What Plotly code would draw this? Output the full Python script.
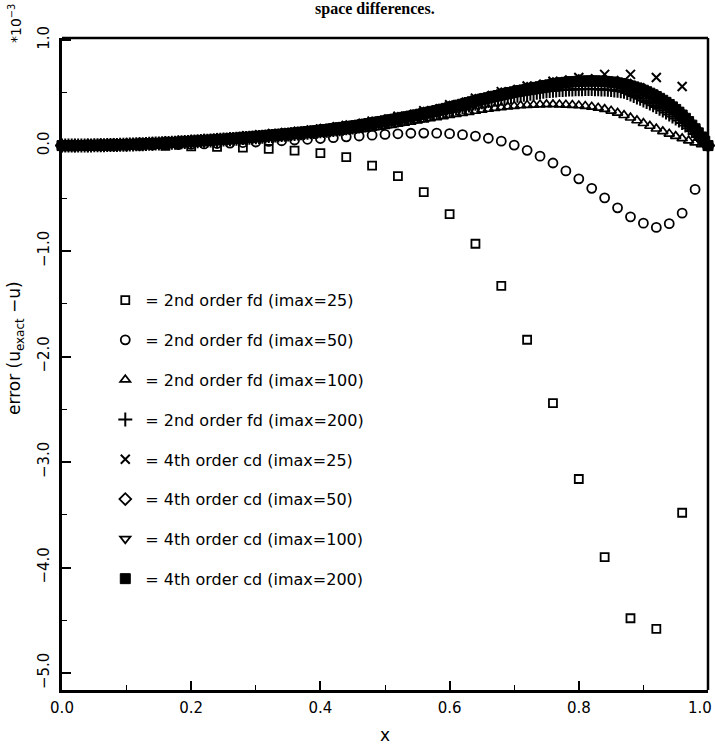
import numpy as np
import plotly.graph_objects as go

# Error u_exact - u, in units of 1e-3, on the grid x_i = i / imax

# 2nd order finite differences
err_fd2_25 = [0.000, 0.000, 0.000, 0.000, -0.002, -0.008, -0.012, -0.020, -0.030, -0.048,
              -0.072, -0.110, -0.190, -0.290, -0.440, -0.650, -0.930, -1.330, -1.840, -2.440,
              -3.160, -3.900, -4.480, -4.580, -3.480, 0.000]

err_fd2_50 = [0.000, 0.000, 0.000, 0.001, 0.002, 0.003, 0.004, 0.006, 0.008, 0.010,
              0.013, 0.016, 0.020, 0.024, 0.029, 0.034, 0.040, 0.046, 0.053, 0.060,
              0.067, 0.075, 0.083, 0.091, 0.099, 0.106, 0.112, 0.117, 0.119, 0.118,
              0.113, 0.104, 0.090, 0.070, 0.042, 0.005, -0.045, -0.100, -0.165, -0.240,
              -0.315, -0.405, -0.495, -0.590, -0.675, -0.735, -0.775, -0.740, -0.640, -0.415,
              0.000]

err_fd2_100 = [0.000, 0.000, 0.000, 0.000, 0.001, 0.002, 0.002, 0.003, 0.004, 0.005,
               0.006, 0.007, 0.009, 0.010, 0.012, 0.014, 0.016, 0.018, 0.021, 0.023,
               0.026, 0.029, 0.032, 0.035, 0.038, 0.042, 0.045, 0.049, 0.053, 0.057,
               0.061, 0.065, 0.070, 0.074, 0.079, 0.084, 0.089, 0.094, 0.100, 0.105,
               0.111, 0.117, 0.123, 0.129, 0.136, 0.143, 0.151, 0.159, 0.167, 0.176,
               0.185, 0.195, 0.205, 0.215, 0.225, 0.236, 0.247, 0.258, 0.268, 0.278,
               0.288, 0.298, 0.308, 0.318, 0.328, 0.338, 0.347, 0.355, 0.362, 0.369,
               0.375, 0.380, 0.384, 0.387, 0.389, 0.390, 0.390, 0.389, 0.387, 0.384,
               0.380, 0.375, 0.368, 0.358, 0.346, 0.330, 0.310, 0.288, 0.264, 0.238,
               0.212, 0.186, 0.160, 0.135, 0.112, 0.090, 0.068, 0.047, 0.028, 0.012,
               0.000]

err_fd2_200 = [0.000, 0.000, 0.000, 0.000, 0.000, 0.000, 0.001, 0.001, 0.002, 0.002,
               0.003, 0.003, 0.004, 0.004, 0.005, 0.005, 0.006, 0.006, 0.007, 0.008,
               0.009, 0.010, 0.011, 0.012, 0.013, 0.014, 0.016, 0.017, 0.018, 0.019,
               0.021, 0.022, 0.024, 0.025, 0.027, 0.028, 0.030, 0.032, 0.034, 0.035,
               0.037, 0.039, 0.041, 0.043, 0.045, 0.047, 0.049, 0.051, 0.053, 0.055,
               0.057, 0.059, 0.061, 0.063, 0.066, 0.068, 0.071, 0.073, 0.075, 0.077,
               0.080, 0.082, 0.085, 0.087, 0.090, 0.092, 0.095, 0.097, 0.100, 0.102,
               0.105, 0.108, 0.111, 0.114, 0.117, 0.120, 0.123, 0.126, 0.129, 0.132,
               0.135, 0.138, 0.142, 0.145, 0.149, 0.152, 0.156, 0.160, 0.164, 0.168,
               0.172, 0.176, 0.181, 0.185, 0.190, 0.194, 0.199, 0.204, 0.209, 0.214,
               0.219, 0.224, 0.229, 0.234, 0.239, 0.244, 0.250, 0.255, 0.261, 0.267,
               0.273, 0.279, 0.285, 0.291, 0.297, 0.303, 0.310, 0.316, 0.323, 0.330,
               0.337, 0.344, 0.352, 0.359, 0.367, 0.374, 0.381, 0.388, 0.396, 0.403,
               0.410, 0.416, 0.422, 0.428, 0.434, 0.439, 0.445, 0.450, 0.456, 0.461,
               0.467, 0.472, 0.477, 0.482, 0.487, 0.492, 0.497, 0.501, 0.506, 0.510,
               0.515, 0.518, 0.521, 0.523, 0.526, 0.528, 0.530, 0.531, 0.533, 0.534,
               0.535, 0.535, 0.536, 0.536, 0.536, 0.535, 0.534, 0.532, 0.531, 0.529,
               0.527, 0.523, 0.520, 0.515, 0.510, 0.498, 0.485, 0.471, 0.457, 0.443,
               0.428, 0.413, 0.398, 0.382, 0.366, 0.349, 0.332, 0.314, 0.296, 0.277,
               0.258, 0.237, 0.215, 0.190, 0.165, 0.138, 0.110, 0.083, 0.055, 0.027,
               0.000]

# 4th order compact differences
err_cd4_25 = [0.000, 0.001, 0.004, 0.012, 0.024, 0.040, 0.058, 0.079, 0.102, 0.128,
              0.158, 0.192, 0.232, 0.278, 0.330, 0.388, 0.450, 0.512, 0.565, 0.610,
              0.645, 0.675, 0.675, 0.645, 0.560, 0.000]

err_cd4_50 = [0.000, 0.000, 0.002, 0.004, 0.007, 0.010, 0.014, 0.019, 0.025, 0.032,
              0.040, 0.048, 0.056, 0.065, 0.075, 0.085, 0.096, 0.107, 0.118, 0.131,
              0.145, 0.161, 0.177, 0.194, 0.214, 0.235, 0.257, 0.280, 0.305, 0.332,
              0.362, 0.394, 0.427, 0.458, 0.487, 0.515, 0.540, 0.564, 0.585, 0.603,
              0.614, 0.617, 0.613, 0.599, 0.570, 0.530, 0.470, 0.395, 0.295, 0.165,
              0.000]

err_cd4_100 = [0.000, 0.000, 0.000, 0.001, 0.002, 0.003, 0.004, 0.005, 0.007, 0.008,
               0.010, 0.012, 0.014, 0.017, 0.019, 0.022, 0.025, 0.029, 0.032, 0.036,
               0.040, 0.044, 0.048, 0.052, 0.056, 0.060, 0.065, 0.070, 0.075, 0.080,
               0.085, 0.090, 0.096, 0.101, 0.107, 0.112, 0.118, 0.125, 0.131, 0.138,
               0.145, 0.153, 0.161, 0.169, 0.177, 0.185, 0.194, 0.204, 0.214, 0.224,
               0.235, 0.246, 0.257, 0.268, 0.280, 0.292, 0.305, 0.318, 0.332, 0.346,
               0.360, 0.376, 0.392, 0.408, 0.424, 0.440, 0.454, 0.468, 0.482, 0.496,
               0.510, 0.522, 0.534, 0.546, 0.558, 0.570, 0.582, 0.592, 0.600, 0.606,
               0.610, 0.612, 0.613, 0.612, 0.609, 0.603, 0.595, 0.582, 0.566, 0.547,
               0.525, 0.497, 0.465, 0.430, 0.390, 0.343, 0.290, 0.228, 0.160, 0.082,
               0.000]

err_cd4_200 = [0.000, 0.000, 0.000, 0.000, 0.000, 0.001, 0.001, 0.001, 0.002, 0.002,
               0.003, 0.003, 0.004, 0.004, 0.005, 0.006, 0.007, 0.007, 0.008, 0.009,
               0.010, 0.011, 0.012, 0.013, 0.014, 0.015, 0.017, 0.018, 0.019, 0.020,
               0.022, 0.023, 0.025, 0.027, 0.029, 0.030, 0.032, 0.034, 0.036, 0.038,
               0.040, 0.042, 0.044, 0.046, 0.048, 0.050, 0.052, 0.054, 0.056, 0.058,
               0.060, 0.062, 0.065, 0.067, 0.070, 0.072, 0.075, 0.077, 0.080, 0.082,
               0.085, 0.087, 0.090, 0.093, 0.096, 0.098, 0.101, 0.104, 0.107, 0.109,
               0.112, 0.115, 0.118, 0.121, 0.125, 0.128, 0.131, 0.134, 0.138, 0.141,
               0.145, 0.149, 0.153, 0.157, 0.161, 0.165, 0.169, 0.173, 0.177, 0.181,
               0.185, 0.189, 0.194, 0.199, 0.204, 0.209, 0.214, 0.219, 0.224, 0.229,
               0.235, 0.240, 0.246, 0.251, 0.257, 0.262, 0.268, 0.274, 0.280, 0.286,
               0.292, 0.298, 0.305, 0.311, 0.318, 0.325, 0.332, 0.339, 0.346, 0.353,
               0.360, 0.368, 0.376, 0.384, 0.392, 0.400, 0.408, 0.416, 0.424, 0.432,
               0.440, 0.447, 0.454, 0.461, 0.468, 0.475, 0.482, 0.489, 0.496, 0.503,
               0.510, 0.516, 0.522, 0.528, 0.534, 0.540, 0.546, 0.552, 0.558, 0.564,
               0.570, 0.576, 0.582, 0.587, 0.592, 0.596, 0.600, 0.603, 0.606, 0.608,
               0.610, 0.611, 0.612, 0.613, 0.613, 0.613, 0.612, 0.611, 0.609, 0.606,
               0.603, 0.599, 0.595, 0.589, 0.582, 0.574, 0.566, 0.557, 0.547, 0.536,
               0.525, 0.511, 0.497, 0.481, 0.465, 0.448, 0.430, 0.410, 0.390, 0.367,
               0.343, 0.317, 0.290, 0.259, 0.228, 0.194, 0.160, 0.121, 0.082, 0.041,
               0.000]

legend_labels = [
    "= 2nd order fd (imax=25)",
    "= 2nd order fd (imax=50)",
    "= 2nd order fd (imax=100)",
    "= 2nd order fd (imax=200)",
    "= 4th order cd (imax=25)",
    "= 4th order cd (imax=50)",
    "= 4th order cd (imax=100)",
    "= 4th order cd (imax=200)",
]

x_tick_vals = [0.0, 0.2, 0.4, 0.6, 0.8, 1.0]
x_tick_text = ["0.0", "0.2", "0.4", "0.6", "0.8", ""]
x_last_label = "1.0"
y_tick_vals = [-5, -4, -3, -2, -1, 0, 1]
y_tick_text = ["\u22125.0", "\u22124.0", "\u22123.0", "\u22122.0", "\u22121.0", "0.0", "1.0"]

# (values, marker symbol, marker size, outline width)
series = [
    (err_fd2_25, "square-open", 8, 1.8),
    (err_fd2_50, "circle-open", 9, 1.8),
    (err_fd2_100, "triangle-up-open", 9, 1.7),
    (err_fd2_200, "cross-thin-open", 10, 2.0),
    (err_cd4_25, "x-thin-open", 9, 2.0),
    (err_cd4_50, "diamond-open", 9, 1.8),
    (err_cd4_100, "triangle-down-open", 9, 1.8),
    (err_cd4_200, "square", 10, 1.0),
]

fig = go.Figure()
for (vals, sym, size, lw), label in zip(series, legend_labels):
    n = len(vals) - 1
    xs = np.linspace(0.0, 1.0, n + 1)
    fig.add_trace(go.Scatter(
        x=xs, y=vals, mode="markers", name=label, legendgroup=label,
        cliponaxis=False,
        marker=dict(symbol=sym, size=size, color="black",
                    line=dict(color="black", width=lw)),
    ))

font_main = "DejaVu Sans"

fig.update_layout(
    width=715, height=745,
    margin=dict(l=62, r=7, t=38, b=55),
    paper_bgcolor="white", plot_bgcolor="white",
    showlegend=True,
    legend=dict(
        x=0.067, y=0.624, xanchor="left", yanchor="top",
        font=dict(family=font_main, size=16, color="black"),
        bgcolor="rgba(0,0,0,0)", borderwidth=0,
        traceorder="grouped", tracegroupgap=16, itemwidth=30,
        itemsizing="trace",
    ),
    xaxis=dict(
        range=[0.0, 1.0], tickmode="array", tickvals=x_tick_vals, ticktext=x_tick_text,
        ticks="inside", ticklen=9, tickwidth=1.5, tickcolor="black",
        minor=dict(tickmode="linear", tick0=0, dtick=0.1, ticks="inside",
                   ticklen=5, tickwidth=1.2, tickcolor="black"),
        showline=True, linewidth=3, linecolor="black",
        showgrid=False, zeroline=False, ticklabelstandoff=2,
        tickfont=dict(family=font_main, size=15, color="black"),
    ),
    yaxis=dict(
        range=[-5.16, 1.02], tickmode="array", tickvals=y_tick_vals, ticktext=y_tick_text,
        tickangle=-90,
        ticks="inside", ticklen=9, tickwidth=1.5, tickcolor="black",
        minor=dict(tickmode="linear", tick0=0, dtick=0.5, ticks="inside",
                   ticklen=5, tickwidth=1.2, tickcolor="black"),
        showline=True, linewidth=3, linecolor="black",
        showgrid=False, zeroline=False, ticklabelstandoff=4,
        tickfont=dict(family=font_main, size=15, color="black"),
    ),
    shapes=[
        dict(type="line", xref="paper", yref="paper", x0=0, x1=1, y0=1, y1=1,
             line=dict(color="black", width=2.5), layer="above"),
        dict(type="line", xref="paper", yref="paper", x0=1, x1=1, y0=0, y1=1,
             line=dict(color="black", width=2.5), layer="above"),
    ],
    annotations=[
        dict(text="space differences.", xref="paper", yref="paper",
             x=0.4845, y=1.0445, xanchor="center", yanchor="middle", showarrow=False,
             font=dict(family="Liberation Serif", size=16, color="black", weight="bold")),
        dict(text="*10<sup>\u22123</sup>", xref="paper", yref="paper",
             x=-0.0728, y=1.0230, xanchor="center", yanchor="middle", showarrow=False,
             textangle=-90, font=dict(family=font_main, size=14, color="black")),
        dict(text="error (u<sub>exact</sub> \u2212u)", xref="paper", yref="paper",
             x=-0.0728, y=0.5245, xanchor="center", yanchor="middle", showarrow=False,
             textangle=-90, font=dict(family=font_main, size=17, color="black")),
        dict(text="x", xref="paper", yref="paper",
             x=0.5, y=-0.069, xanchor="center", yanchor="middle", showarrow=False,
             font=dict(family=font_main, size=17, color="black")),
        # label of the last x tick, kept inside the page edge
        dict(text=x_last_label, xref="x", yref="paper",
             x=1.0, y=0, xanchor="right", yanchor="top", yshift=-7, xshift=6,
             showarrow=False, font=dict(family=font_main, size=15, color="black")),
    ],
)

fig.write_html("out.html")
